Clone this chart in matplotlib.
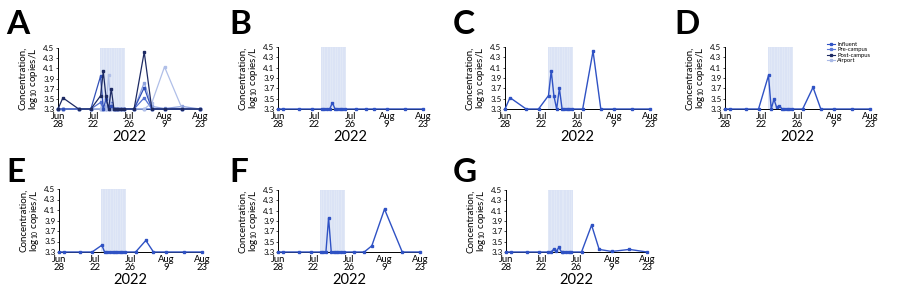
import numpy as np
import matplotlib
matplotlib.use("Agg")
import matplotlib.pyplot as plt

plt.rcParams['font.family'] = ['Lato', 'DejaVu Sans']
plt.rcParams['mathtext.fontset'] = 'custom'
plt.rcParams['mathtext.rm'] = 'Lato'

# sample days, counted from Jun 28 2022
days = [0, 3.3, 14, 22.2, 24.8, 25.1, 25.4, 25.7, 26.0, 26.3, 26.5, 26.8, 27.1, 27.4,
        30, 34, 37, 42, 49, 56]

# log10 copies/L per panel (3.3 = detection limit)
vals_B = [3.3, 3.3, 3.3, 3.3, 3.3, 3.3, 3.3, 3.3, 3.42, 3.3, 3.3, 3.3, 3.3, 3.3,
          3.3, 3.3, 3.3, 3.3, 3.3, 3.3]
vals_C = [3.3, 3.52, 3.3, 3.3, 3.56, 4.04, 3.55, 3.3, 3.7, 3.3, 3.3, 3.3, 3.3, 3.3,
          3.3, 4.42, 3.3, 3.3, 3.3, 3.3]
vals_D = [3.3, 3.3, 3.3, 3.3, 3.95, 3.3, 3.49, 3.33, 3.36, 3.3, 3.3, 3.3, 3.3, 3.3,
          3.3, 3.72, 3.3, 3.3, 3.3, 3.3]
vals_E = [3.3, 3.3, 3.3, 3.3, 3.43, 3.3, 3.3, 3.3, 3.3, 3.3, 3.3, 3.3, 3.3, 3.3,
          3.3, 3.52, 3.3, 3.3, 3.3, 3.3]
vals_F = [3.3, 3.3, 3.3, 3.3, 3.3, 3.3, 3.3, 3.96, 3.3, 3.3, 3.3, 3.3, 3.3, 3.3,
          3.3, 3.3, 3.42, 4.13, 3.3, 3.3]
vals_G = [3.3, 3.3, 3.3, 3.3, 3.3, 3.3, 3.35, 3.31, 3.39, 3.3, 3.3, 3.3, 3.3, 3.3,
          3.3, 3.82, 3.35, 3.31, 3.35, 3.3]

# x axis: ticks evenly spaced though dates are not
tick_days = [0, 24, 28, 42, 56]
tick_labels = ['Jun\n28', 'Jul\n22', 'Jul\n26', 'Aug\n9', 'Aug\n23']
shade = (24.75, 27.55)
yticks = [3.3, 3.5, 3.7, 3.9, 4.1, 4.3, 4.5]

legend_names = ['Influent', 'Pre-campus', 'Post-campus', 'Airport']
legend_colors = ['#2f52c4', '#5a78d8', '#1d2a63', '#a9b9e6']

line_col = '#2f52c4'
a_colors = {'B': '#3b5fd0', 'C': '#1d2a63', 'D': '#3150b8',
            'E': '#5673d3', 'F': '#b0bfe8', 'G': '#8ea2de'}
panel_vals = {'B': vals_B, 'C': vals_C, 'D': vals_D,
              'E': vals_E, 'F': vals_F, 'G': vals_G}

knots = np.array(tick_days, dtype=float)
pos = np.arange(len(tick_days), dtype=float)


def fwd(d):
    return np.interp(d, knots, pos)


def inv(p):
    return np.interp(p, pos, knots)


fig = plt.figure(figsize=(9, 3.02), dpi=100)

boxes = {
    'A': (58, 48, 142, 61), 'B': (278, 47, 145, 62), 'C': (505, 47, 145, 62),
    'D': (725, 47, 145, 62), 'E': (59, 189, 143, 63), 'F': (278, 190, 142, 62),
    'G': (506, 190, 141, 62),
}
letter_xy = {'A': (6, 34), 'B': (229, 34), 'C': (453, 34), 'D': (674, 34),
             'E': (6, 182), 'F': (229, 182), 'G': (453, 182)}

W, H = 900, 302
for name, (x, y, w, h) in boxes.items():
    ax = fig.add_axes([x / W, 1 - (y + h) / H, w / W, h / H])
    ax.set_xscale('function', functions=(fwd, inv))
    ax.set_xlim(0, 56)
    ax.set_ylim(3.3, 4.5)

    ax.axvspan(shade[0], shade[1], color='#dbe3f5', lw=0, zorder=0)
    for d in days:
        if shade[0] < d < shade[1]:
            ax.axvline(d, color='#e6ecf8', lw=0.4, zorder=0.5)

    if name == 'A':
        for k in ['B', 'E', 'G', 'F', 'D', 'C']:
            ax.plot(days, panel_vals[k], color=a_colors[k], lw=0.9, marker='s',
                    ms=1.6, clip_on=False, zorder=3)
    else:
        ax.plot(days, panel_vals[name], color=line_col, lw=1.0, marker='s',
                ms=1.9, clip_on=False, zorder=3)

    ax.set_yticks(yticks)
    ax.set_yticklabels([f'{v:.1f}' for v in yticks], fontsize=5.8)
    ax.set_xticks(tick_days)
    ax.set_xticklabels(tick_labels, fontsize=6.8, linespacing=0.85)
    ax.xaxis.set_minor_locator(matplotlib.ticker.NullLocator())
    ax.tick_params(axis='y', length=1.5, width=0.5, pad=1)
    ax.tick_params(axis='x', length=0, pad=2)
    for s in ['top', 'right']:
        ax.spines[s].set_visible(False)
    for s in ['left', 'bottom']:
        ax.spines[s].set_linewidth(0.7)
    ax.set_ylabel('Concentration,\nlog$_{10}$ copies/L', fontsize=7,
                  linespacing=1.0, labelpad=2)
    ax.set_xlabel('2022', fontsize=10.5, labelpad=1)

    lx, ly = letter_xy[name]
    fig.text(lx / W, 1 - ly / H, name, fontsize=24, fontweight='bold',
             ha='left', va='baseline')

    if name == 'D':
        handles = [plt.Line2D([], [], color=c, lw=0.8, marker='s', ms=1.4)
                   for c in legend_colors]
        ax.legend(handles, legend_names, fontsize=4.2, frameon=False,
                  loc='upper right', bbox_to_anchor=(1.0, 1.08),
                  handlelength=1.4, handletextpad=0.3, labelspacing=0.05,
                  borderpad=0, borderaxespad=0)

fig.savefig('out.png', dpi=100)
